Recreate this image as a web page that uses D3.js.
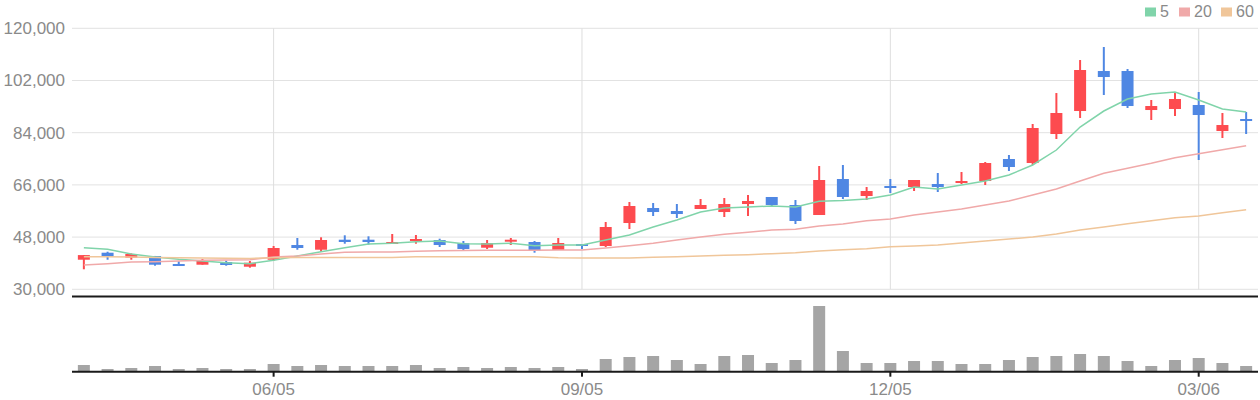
<!DOCTYPE html>
<html lang="ko">
<head>
<meta charset="utf-8">
<title>Weekly chart</title>
<style>
  body { margin: 0; background: #fff; }
  text { font-family: "Liberation Sans", Arial, sans-serif; }
</style>
</head>
<body>
<div id="chart"></div>
<script src="https://cdn.jsdelivr.net/npm/d3@7/dist/d3.min.js"></script>
<script>
var dates = ["04/10","04/17","04/24","05/01","05/08","05/15","05/22","05/29","06/05","06/12",
  "06/19","06/26","07/03","07/10","07/17","07/24","07/31","08/07","08/14","08/21",
  "08/28","09/05","09/12","09/19","09/26","10/03","10/10","10/17","10/24","10/31",
  "11/07","11/14","11/21","11/28","12/05","12/12","12/19","12/26","01/02","01/09",
  "01/16","01/23","01/30","02/06","02/13","02/20","02/27","03/06","03/13","03/20"];

var open  = [40200,42620,40900,41480,38720,38480,39410,37790,40200,45270,
  43650,47100,47100,45720,46650,47000,45960,44340,46410,46310,
  43550,45620,44930,52860,58030,57000,57690,56650,59410,61830,
  59070,55620,68030,62170,65620,65270,66310,66650,67340,74930,
  73550,83550,91480,105270,105270,91820,92170,93550,84580,88720];
var high  = [41800,42960,42400,41500,39650,40450,39860,39760,44930,47690,
  47930,48620,48270,49070,48720,47450,46650,47000,47690,46650,
  47690,45620,53200,60100,59760,59410,61140,61480,62520,61830,
  60790,72510,72860,65270,68030,67690,70100,70440,73890,76310,
  87000,97680,109060,113550,105960,95270,97680,98030,90790,91130];
var low   = [36900,40200,40200,38140,38140,38480,38140,37450,39860,43650,
  42960,45720,45380,45720,45720,44590,43550,43900,45270,42620,
  43550,43900,44590,50790,55270,54580,57690,54930,55270,58380,
  52520,55620,61140,60790,63200,63890,63550,66310,65960,70790,
  72860,81820,89060,97000,92510,88370,89750,74580,82170,83550];
var close = [41800,41240,42170,38480,38200,39760,38380,39170,44240,44240,
  47000,46310,46310,46310,47340,45270,43900,45960,47100,43310,
  45960,44930,51480,58720,56650,55960,59070,59410,60450,59070,
  53550,67690,61830,63890,64930,67690,65270,67340,73550,72170,
  85620,90790,105620,103200,93200,93200,95620,90100,86650,88030];

var ma5  = [44340,43790,42170,41140,40340,39760,39170,38830,40000,41480,
  42960,44340,45620,45860,46410,46650,45720,45620,45860,45030,
  45270,45270,47000,48720,51480,53890,56650,58030,58380,58720,
  58380,60340,60620,61140,62520,65270,64580,65960,67340,69410,
  72860,78030,85960,91480,95620,97340,98030,95270,92170,91130];
var ma20 = [38380,38830,39410,39520,39760,40000,40100,40210,41140,41480,
  42170,42760,42860,42860,43100,43310,43380,43450,43450,43480,
  43550,43550,44240,45030,45860,47000,48030,48960,49650,50450,
  50690,51830,52520,53650,54240,55620,56650,57690,59070,60450,
  62520,64580,67340,70000,71720,73450,75380,76760,78130,79510];
var ma60 = [41240,41240,41100,41000,40900,40800,40700,40650,40900,40950,
  40950,40950,40950,41000,41240,41240,41240,41240,41240,41240,
  40900,40790,40790,40790,41030,41240,41480,41720,41930,42270,
  42620,43210,43650,44000,44690,44930,45270,45960,46650,47340,
  48030,49070,50450,51480,52620,53650,54690,55270,56410,57450];

var volume = [670,270,370,570,270,370,270,270,770,570,
  670,570,570,570,670,370,470,370,470,370,
  470,270,1270,1470,1570,1170,770,1570,1670,870,
  1170,6570,2070,870,870,1070,1070,770,770,1170,
  1470,1570,1770,1570,1070,570,1170,1370,870,570];

var yTicks = [30000, 48000, 66000, 84000, 102000, 120000];
var xTickDates = ["06/05", "09/05", "12/05", "03/06"];

var maSeries = [
  { name: "5",  values: ma5,  color: "#80d4aa" },
  { name: "20", values: ma20, color: "#f0a9a9" },
  { name: "60", values: ma60, color: "#f0c69a" }
];

var width = 1260, height = 400;
var left = 72, right = 1258;
var priceTop = 28.3, priceBottom = 289.3;
var volTop = 297, volBottom = 371.7;

var upColor = "#fd4b4f", downColor = "#4f87e3";

var svg = d3.select("#chart").append("svg")
  .attr("width", width)
  .attr("height", height);

var x = d3.scaleBand().domain(d3.range(dates.length)).range([left, right])
  .paddingInner(0.5).paddingOuter(0.25);
var xc = function(i) { return x(i) + x.bandwidth() / 2; };

var y = d3.scaleLinear().domain([30000, 120000]).range([priceBottom, priceTop]);
var yv = d3.scaleLinear().domain([0, 7470]).range([volBottom, volTop]);

// grid
svg.append("g").selectAll("line.h")
  .data(yTicks).enter().append("line")
  .attr("x1", left).attr("x2", right)
  .attr("y1", function(d) { return y(d); })
  .attr("y2", function(d) { return y(d); })
  .attr("stroke", "#e2e2e2").attr("stroke-width", 1);

var tickIdx = xTickDates.map(function(d) { return dates.indexOf(d); });

svg.append("g").selectAll("line.v")
  .data(tickIdx).enter().append("line")
  .attr("x1", function(i) { return xc(i); })
  .attr("x2", function(i) { return xc(i); })
  .attr("y1", priceTop).attr("y2", priceBottom)
  .attr("stroke", "#dedede").attr("stroke-width", 1);

// y labels
var yAxis = d3.axisLeft(y).tickValues(yTicks).tickSize(0).tickPadding(7)
  .tickFormat(d3.format(","));
var ya = svg.append("g").attr("transform", "translate(" + left + ",0)").call(yAxis);
ya.select(".domain").remove();
ya.selectAll("text").attr("fill", "#8a8a8a").style("font-size", "17px")
  .style("font-family", "'Liberation Sans', Arial, sans-serif");

// moving averages
var line = d3.line()
  .x(function(d, i) { return xc(i); })
  .y(function(d) { return y(d); });

// candles
var candles = svg.append("g").selectAll("g")
  .data(dates.map(function(d, i) { return i; }))
  .enter().append("g");

candles.append("line")
  .attr("x1", function(i) { return xc(i); })
  .attr("x2", function(i) { return xc(i); })
  .attr("y1", function(i) { return y(high[i]); })
  .attr("y2", function(i) { return y(low[i]); })
  .attr("stroke", function(i) { return close[i] >= open[i] ? upColor : downColor; })
  .attr("stroke-width", 2);

candles.append("rect")
  .attr("x", function(i) { return xc(i) - 6; })
  .attr("width", 12)
  .attr("y", function(i) { return y(Math.max(open[i], close[i])); })
  .attr("height", function(i) {
    return Math.max(2, Math.abs(y(open[i]) - y(close[i])));
  })
  .attr("fill", function(i) { return close[i] >= open[i] ? upColor : downColor; });

svg.append("g").selectAll("path")
  .data(maSeries).enter().append("path")
  .attr("d", function(s) { return line(s.values); })
  .attr("fill", "none")
  .attr("stroke", function(s) { return s.color; })
  .attr("stroke-width", 1.5);

// volume
svg.append("g").selectAll("rect")
  .data(volume).enter().append("rect")
  .attr("x", function(d, i) { return xc(i) - 6; })
  .attr("width", 12)
  .attr("y", function(d) { return yv(d); })
  .attr("height", function(d) { return volBottom - yv(d); })
  .attr("fill", "#a5a5a5");

// separators
svg.append("line")
  .attr("x1", left).attr("x2", right)
  .attr("y1", 296.5).attr("y2", 296.5)
  .attr("stroke", "#1a1a1a").attr("stroke-width", 2);

var xAxis = d3.axisBottom(x)
  .tickValues(tickIdx)
  .tickSize(5).tickPadding(6)
  .tickFormat(function(i) { return dates[i]; });
var xa = svg.append("g").attr("transform", "translate(0," + volBottom + ")").call(xAxis);
xa.select(".domain").attr("d", "M" + left + ",0H" + right).attr("stroke", "#1a1a1a").attr("stroke-width", 2);
xa.selectAll(".tick line").attr("stroke", "#1a1a1a").attr("stroke-width", 2);
xa.selectAll("text").attr("fill", "#8a8a8a").style("font-size", "17px")
  .style("font-family", "'Liberation Sans', Arial, sans-serif");

// legend
var legendX = [1145, 1179, 1221];
var lg = svg.append("g").selectAll("g")
  .data(maSeries).enter().append("g")
  .attr("transform", function(d, i) { return "translate(" + legendX[i] + ",0)"; });
lg.append("rect").attr("y", 7.5).attr("width", 11).attr("height", 9)
  .attr("fill", function(d) { return d.color; });
lg.append("text").attr("x", 15).attr("y", 17)
  .attr("fill", "#8a8a8a")
  .style("font-size", "16px")
  .style("font-family", "'Liberation Sans', Arial, sans-serif")
  .text(function(d) { return d.name; });
</script>
</body>
</html>
